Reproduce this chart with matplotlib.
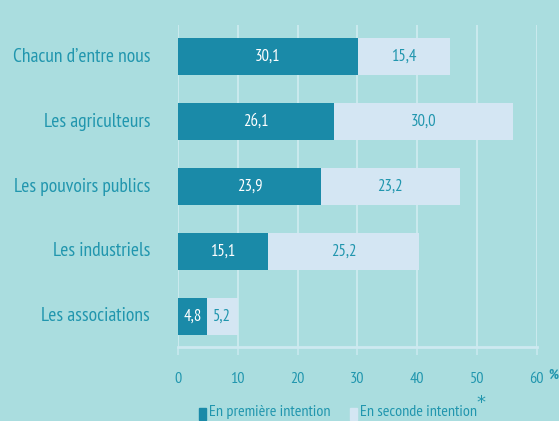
import matplotlib
matplotlib.use("Agg")
import matplotlib.pyplot as plt
from matplotlib.patches import Rectangle

categories = ["Chacun d\u2019entre nous", "Les agriculteurs", "Les pouvoirs publics",
              "Les industriels", "Les associations"]
premiere = [30.1, 26.1, 23.9, 15.1, 4.8]
seconde = [15.4, 30.0, 23.2, 25.2, 5.2]
xticks = [0, 10, 20, 30, 40, 50, 60]

BG = "#aadddf"
DARK = "#1a8aa8"
LIGHT = "#d4e6f3"
TXT = "#2196ae"
FONT = ["PT Sans Narrow", "DejaVu Sans"]

plt.rcParams["font.family"] = FONT

fig = plt.figure(figsize=(5.59, 4.21), dpi=100, facecolor=BG)
ax = fig.add_axes([0.3184, 0.1746, 0.6418, 0.766])
ax.set_facecolor(BG)

y = list(range(len(categories)))
h = 0.57
ax.barh(y, premiere, height=h, color=DARK, zorder=3)
ax.barh(y, seconde, left=premiere, height=h, color=LIGHT, zorder=3)

def fmt(v):
    return f"{v:.1f}".replace(".", ",")

for i, (a, b) in enumerate(zip(premiere, seconde)):
    ax.text(a / 2, i, fmt(a), ha="center", va="center", color="white", fontsize=12, zorder=4)
    ax.text(a + b / 2, i, fmt(b), ha="center", va="center", color=TXT, fontsize=12, zorder=4)

ax.set_xlim(0, 60)
ax.set_ylim(4.48, -0.49)
ax.set_xticks(xticks)
ax.set_xticklabels([str(t) for t in xticks], color=TXT, fontsize=11.5)
ax.set_yticks(y)
ax.set_yticklabels(categories, color=TXT, fontsize=14, va="center")
ax.tick_params(axis="y", length=0, pad=20)
ax.tick_params(axis="x", length=6, color="#c8e8ee", width=1.2, pad=12)
ax.grid(axis="x", color="#d0ecf0", linewidth=1.2, zorder=1)
for s in ["top", "right", "left"]:
    ax.spines[s].set_visible(False)
ax.spines["bottom"].set_color("#cde9f0")
ax.spines["bottom"].set_linewidth(2)

fig.text(553 / 559, 1 - 375 / 421, "%", color=TXT, fontsize=10, ha="center", va="center",
         fontweight="bold")

# legend
fig.patches.append(Rectangle((199 / 559, 1 - 420 / 421), 7 / 559, 12 / 421,
                             transform=fig.transFigure, color=DARK))
fig.text(209 / 559, 1 - 412 / 421, "En première intention", color=TXT, fontsize=11.6,
         ha="left", va="center")
fig.patches.append(Rectangle((350 / 559, 1 - 420 / 421), 7 / 559, 12 / 421,
                             transform=fig.transFigure, color=LIGHT))
fig.text(360 / 559, 1 - 412 / 421, "En seconde intention", color=TXT, fontsize=11.6,
         ha="left", va="center")
fig.text(481 / 559, 1 - 403 / 421, "*", color=TXT, fontsize=13, ha="center", va="center",
         family="DejaVu Sans")

fig.savefig("out.png", dpi=100, facecolor=BG)
